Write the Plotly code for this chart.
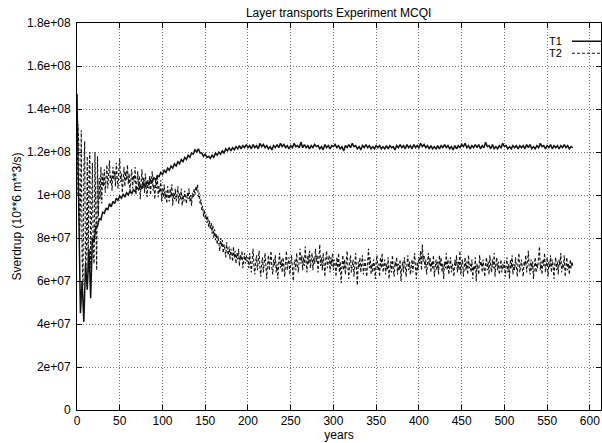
import plotly.graph_objects as go

SCALE = 1e6  # values below are in units of 10**6 (m**3/s)

# T1: sampled every 2 years (0..580)
T1_STEP = 2
T1 = [
    147, 95, 45, 60, 41, 68, 56, 75, 52, 80,
    78, 85.5, 85.5, 89, 88.5, 92, 91.5, 94, 93, 96,
    94.5, 97, 96, 98.5, 97.5, 99.5, 98.5, 100.5, 99, 101,
    100, 102, 100.5, 102.5, 101.5, 103.5, 102.5, 104.5, 103, 105,
    104, 106, 105, 107, 106, 108, 107, 109, 108.5, 110.5,
    109.5, 111.5, 110.5, 112.5, 111.5, 113.5, 112.5, 114.5, 113.5, 115.5,
    114.5, 116.5, 115.5, 117.5, 116.5, 118.5, 117.5, 119.5, 119, 121,
    120, 121.5, 119.5, 119.5, 118, 119, 117.5, 118, 117, 118.5,
    117.5, 119.5, 118.5, 120, 119, 120.5, 119.5, 121.5, 120.5, 122,
    120.5, 122, 121, 122.5, 121.5, 123, 121.5, 123, 122, 123.5,
    122,
    123, 121.5, 123.5, 122, 123, 121.5, 124, 122.5, 123.5, 122,
    123, 121.5, 122.5, 121, 123, 122, 123.5, 122, 124, 122.5,
    123.5, 122, 123, 121.5, 123, 122, 124, 122.5, 123, 122,
    124.5, 122, 123.5, 122, 123, 121.5, 123, 122, 123.5, 122.5,
    123, 121.5, 122.5, 121, 123.5, 122, 123, 121.5, 123, 122.5,
    123.5, 122, 123, 121.5, 122.5, 120.5, 123, 122, 123.5, 122,
    124, 122.5, 123, 121.5, 122.5, 121, 123, 122, 123.5, 122,
    123, 121.5, 122.5, 121.5, 123, 122, 123, 121.5, 122.5, 121.5,
    123, 121.5, 123, 122, 122.5, 121, 123, 122, 123.5, 122,
    123, 121.5, 123.5, 122, 123, 121.5, 123.5, 122, 123, 122,
    124, 122.5, 123.5, 122, 123, 121.5, 123, 121.5, 122.5, 121.5,
    123, 121.5, 123, 122, 123.5, 122, 123, 121.5, 122.5, 121,
    123, 121.5, 123, 122, 123.5, 122.5, 124, 122, 123, 121.5,
    123, 122, 123.5, 122, 123.5, 121.5, 123, 122, 124.5, 122.5,
    123, 121.5, 123.5, 121.5, 122.5, 121.5, 123, 122, 124, 122.5,
    123, 121.5, 122.5, 121.5, 123, 122, 123, 121.5, 123, 122,
    123, 121.5, 123.5, 122, 123.5, 121.5, 122.5, 121.5, 123, 122,
    124, 122.5, 123, 121.5, 123, 122, 123.5, 121.5, 123, 122,
    123, 121.5, 123, 122, 123.5, 122, 123, 121.5, 122.5, 122,
]

# T2: sampled every year (0..580)
T2_STEP = 1
T2 = [
    100, 133, 125, 78, 95, 130, 70, 58, 112, 125,
    60, 75, 118, 64, 110, 120, 66, 95, 115, 72,
    68, 120, 100, 65, 118, 90, 108, 98, 113, 96,
    110, 104, 112, 101, 108, 114, 103, 110, 116, 105,
    109, 102, 113, 107, 111, 104, 115, 108, 103, 112,
    117, 106, 110, 101, 109, 113, 104, 111, 107, 114,
    105, 110, 102, 108, 112, 103, 109, 106, 113, 100,
    107, 111, 104, 109, 98, 106, 112, 103, 108, 101,
    110, 104, 99, 107, 103, 109, 100, 106, 111, 102,
    105, 98, 107, 103, 109, 99, 104, 101, 107, 97,
    103, 99, 105, 98, 102, 96, 104, 100, 97, 103,
    99, 105, 95, 101, 98, 103, 97, 100, 104, 96,
    101, 98, 103, 95, 100, 97, 102, 99, 96, 101,
    98, 103, 97, 100, 95, 101, 99, 103, 100, 104,
    102, 105, 99, 101, 96, 98, 93, 95, 90, 93,
    89, 91, 87, 90, 85, 88, 84, 87, 82, 86,
    80, 84, 79, 82, 77, 81, 78, 74, 80, 76,
    79, 73, 77, 75, 71, 78, 74, 72, 76, 70,
    75, 73, 69, 76, 71, 74, 68, 73, 70, 75,
    67, 72, 70, 74, 66, 71, 73, 68, 72, 69,
    71, 66, 73, 68, 64, 70, 75, 67, 63, 69, 72, 65, 70, 74, 66, 62, 68, 71, 64, 69,
    73, 67, 61, 68, 72, 65, 69, 74, 66, 63, 70, 67, 72, 64, 68, 61, 69, 73, 66, 70,
    64, 71, 67, 62, 69, 74, 65, 68, 71, 63, 67, 72, 66, 60, 68, 70, 65, 73, 67, 64,
    70, 75, 68, 72, 65, 71, 67, 76, 69, 64, 72, 68, 74, 66, 70, 73, 65, 71, 68, 75,
    69, 72, 64, 70, 77, 67, 71, 65, 73, 68, 62, 70, 74, 66, 69, 72, 64, 71, 67, 73,
    65, 70, 68, 62, 71, 66, 73, 64, 69, 59, 67, 72, 65, 70, 63, 68, 74, 66, 61, 69,
    72, 64, 67, 70, 62, 68, 73, 65, 58, 69, 66, 71, 64, 68, 72, 63, 67, 70, 65, 62,
    69, 75, 66, 71, 63, 68, 64, 70, 67, 61, 69, 72, 65, 68, 62, 71, 66, 73, 64, 67,
    70, 63, 68, 65, 71, 61, 67, 69, 64, 72, 66, 62, 69, 67, 71, 63, 68, 65, 70, 60,
    66, 69, 64, 71, 67, 62, 68, 72, 65, 69, 63, 67, 70, 64, 68, 73, 66, 61, 69, 65,
    71, 68, 74, 65, 77, 69, 72, 66, 70, 63, 68, 73, 67, 71, 64, 69, 66, 72, 62, 68,
    70, 65, 69, 63, 72, 67, 71, 64, 68, 61, 69, 66, 73, 65, 70, 63, 67, 71, 64, 68,
    66, 62, 70, 67, 72, 64, 69, 65, 74, 63, 68, 70, 62, 67, 71, 65, 69, 63, 72, 66,
    68, 64, 70, 61, 67, 65, 71, 60, 68, 66, 63, 72, 67, 69, 64, 70, 66, 62, 68, 71,
    65, 69, 63, 72, 67, 64, 70, 66, 73, 62, 68, 71, 65, 69, 63, 67, 70, 64, 68, 66,
    69, 62, 67, 71, 64, 68, 61, 70, 66, 72, 63, 68, 65, 71, 67, 62, 69, 73, 64, 67,
    70, 65, 62, 69, 67, 72, 64, 68, 74, 66, 63, 70, 65, 69, 61, 67, 71, 64, 68, 66,
    72, 76, 65, 69, 63, 70, 67, 73, 64, 68, 71, 62, 69, 66, 72, 64, 70, 67, 61, 68,
    71, 65, 69, 63, 70, 67, 73, 64, 68, 66, 72, 62, 69, 71, 65, 68, 63, 70, 66, 69,
    67,
]

YEARS_T1 = [i * T1_STEP for i in range(len(T1))]
YEARS_T2 = [i * T2_STEP for i in range(len(T2))]

Y_TICKS = [0, 2e7, 4e7, 6e7, 8e7, 1e8, 1.2e8, 1.4e8, 1.6e8, 1.8e8]
Y_LABELS = ["0", "2e+07", "4e+07", "6e+07", "8e+07", "1e+08",
            "1.2e+08", "1.4e+08", "1.6e+08", "1.8e+08"]
X_TICKS = list(range(0, 601, 50))
SERIES_NAMES = ["T1", "T2"]

FONT = "Liberation Sans, Arial, sans-serif"

fig = go.Figure()
fig.add_trace(go.Scatter(
    x=YEARS_T1, y=[v * SCALE for v in T1], mode="lines", name=" ",
    legend="legend", hovertext=SERIES_NAMES[0],
    line=dict(color="#111111", width=1.5),
))
fig.add_trace(go.Scatter(
    x=YEARS_T2, y=[v * SCALE for v in T2], mode="lines", name=" ",
    legend="legend2", hovertext=SERIES_NAMES[1],
    line=dict(color="#111111", width=1.1, dash="3px,2px"),
))

axis_common = dict(
    showline=True, linecolor="black", linewidth=1, mirror="ticks",
    ticks="inside", ticklen=5, tickcolor="black",
    showgrid=True, gridcolor="#777777", gridwidth=1, griddash="1px,2px",
    zeroline=False, tickfont=dict(family=FONT, size=12, color="black"),
)

LEG_Y = [0.953, 0.922]

# legend labels written to the left of the legend line samples (gnuplot style)
for i, nm in enumerate(SERIES_NAMES):
    fig.add_annotation(
        text=nm, xref="paper", yref="paper", x=0.928, y=LEG_Y[i],
        xanchor="right", yanchor="middle", showarrow=False, borderpad=0,
        font=dict(family=FONT, size=11, color="black"),
    )

leg_common = dict(xanchor="left", yanchor="middle", bgcolor="rgba(0,0,0,0)",
                  font=dict(family=FONT, size=8), itemwidth=30)

fig.update_layout(
    width=602, height=443,
    margin=dict(l=77, r=1, t=23, b=33, autoexpand=False),
    paper_bgcolor="white", plot_bgcolor="white",
    font=dict(family=FONT, size=12, color="black"),
    title=dict(text="Layer transports Experiment MCQI", x=0.5625, xanchor="center",
               y=0.972, yanchor="middle", font=dict(family=FONT, size=12)),
    showlegend=True,
    legend=dict(x=0.935, y=LEG_Y[0], **leg_common),
    legend2=dict(x=0.935, y=LEG_Y[1], **leg_common),
)
fig.update_xaxes(range=[0, 613], tickvals=X_TICKS,
                 title=dict(text="years", standoff=2, font=dict(family=FONT, size=12)),
                 **axis_common)
fig.update_yaxes(range=[0, 1.8e8], tickvals=Y_TICKS, ticktext=Y_LABELS,
                 ticklabelstandoff=3,
                 title=dict(text="Sverdrup (10**6 m**3/s)", standoff=2,
                            font=dict(family=FONT, size=12)),
                 **axis_common)

fig.write_html("out.html")
